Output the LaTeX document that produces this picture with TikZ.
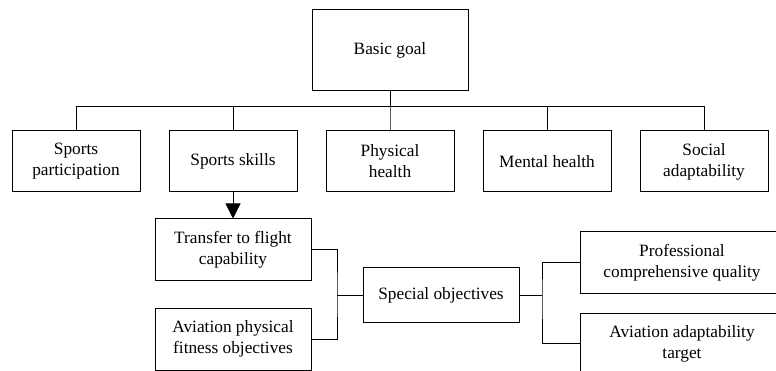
\documentclass[tikz,border=0pt]{standalone}
\usepackage{fontspec}
\setmainfont{Liberation Serif}
\usetikzlibrary{arrows.meta}
\begin{document}
\begin{tikzpicture}[x=1pt,y=-1pt,
  box/.style={draw, line width=1pt, align=center, inner sep=0pt,
    font=\fontsize{17.3}{21}\selectfont},
  rowbox/.style={box, minimum width=128pt, minimum height=61pt},
  widebox/.style={box, minimum width=156pt, minimum height=62pt},
  rightbox/.style={box, minimum width=204pt, minimum height=61pt},
  link/.style={line width=1pt}]
\useasboundingbox (0,0) rectangle (776,371);
\clip (0,0) rectangle (776,371);
\node[box, minimum width=156pt, minimum height=81pt] (basic) at (390,50.5) {Basic goal};
\node[rowbox] (sp) at (76,161.5) {Sports\\participation};
\node[rowbox] (ss) at (233,161.5) {Sports skills};
\node[rowbox] (ph) at (390,161.5) {Physical\\health};
\node[rowbox] (mh) at (547,161.5) {Mental health};
\node[rowbox] (sa) at (704,161.5) {Social\\adaptability};
\node[widebox] (tf) at (233,250) {Transfer to flight\\capability};
\node[widebox] (ap) at (233,339) {Aviation physical\\fitness objectives};
\node[box, minimum width=156pt, minimum height=54pt] (so) at (441,295) {Special objectives};
\node[rightbox] (pc) at (682,262.5) {Professional\\comprehensive quality};
\node[rightbox] (aa) at (682,343.5) {Aviation adaptability\\target};
\coordinate (j1) at (337,295);
\coordinate (j2) at (542,295);
\foreach \n in {sp,ss,ph,mh,sa}
  \draw[link] (\n.north) -- ++(0,-24) -| (basic.south);
\draw[link, -{Triangle[width=15pt,length=15pt]}] (ss.south) -- (tf.north);
\draw[link] (tf.east) -| (j1) |- (ap.east);
\draw[link] (j1) -- (so.west);
\draw[link] (so.east) -- (j2);
\draw[link] (pc.west) -| (j2) |- (aa.west);
\end{tikzpicture}
\end{document}
